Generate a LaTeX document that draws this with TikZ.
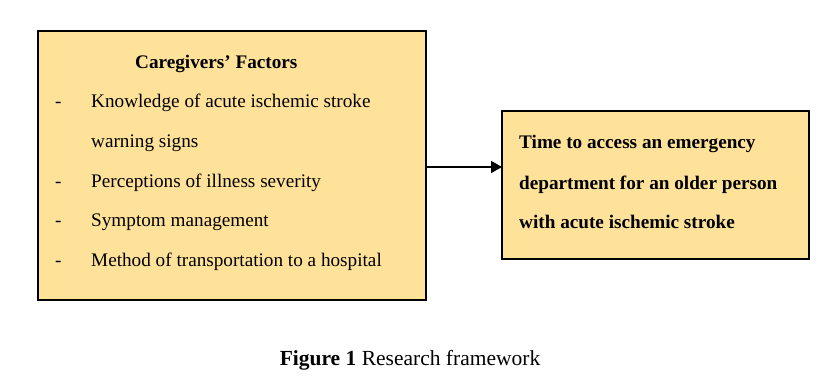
\documentclass[tikz,border=0pt]{standalone}
\usepackage{fontspec}
\setmainfont{Liberation Serif}
\usetikzlibrary{arrows.meta}
\definecolor{boxfill}{HTML}{FFE29A}
\begin{document}
\begin{tikzpicture}[x=1pt,y=-1pt,
  panel/.style={draw=black,line width=1.8pt,fill=boxfill},
  txt/.style={anchor=base west,inner sep=0pt,font=\fontsize{19.2}{22}\selectfont},
  btxt/.style={txt,font=\fontsize{19.2}{22}\selectfont\bfseries}]
\useasboundingbox (0,0) rectangle (836,384);
\draw[panel] (38,31) rectangle (426,300);
\draw[panel] (502,111) rectangle (809,259);
\coordinate (L) at (427,167);
\coordinate (R) at (502,167);
\node[btxt] (title) at (135,68) {Caregivers’ Factors};
\node[txt] (d1) at (55,107) {-};
\node[txt] (t1) at (91,107) {Knowledge of acute ischemic stroke};
\node[txt] (t1b) at (91,147) {warning signs};
\node[txt] (d2) at (55,187) {-};
\node[txt] (t2) at (91,187) {Perceptions of illness severity};
\node[txt] (d3) at (55,226) {-};
\node[txt] (t3) at (91,226) {Symptom management};
\node[txt] (d4) at (55,266) {-};
\node[txt] (t4) at (91,266) {Method of transportation to a hospital};
\node[btxt] (r1) at (519,148) {Time to access an emergency};
\node[btxt] (r2) at (519,189) {department for an older person};
\node[btxt] (r3) at (519,228) {with acute ischemic stroke};
\draw[line width=1.6pt,-{Triangle[length=11pt,width=12pt]}] (L) -- (R);
\node[txt,anchor=base,font=\fontsize{21.5}{24}\selectfont] (cap) at (410,365) {\textbf{Figure 1} Research framework};
\end{tikzpicture}
\end{document}
